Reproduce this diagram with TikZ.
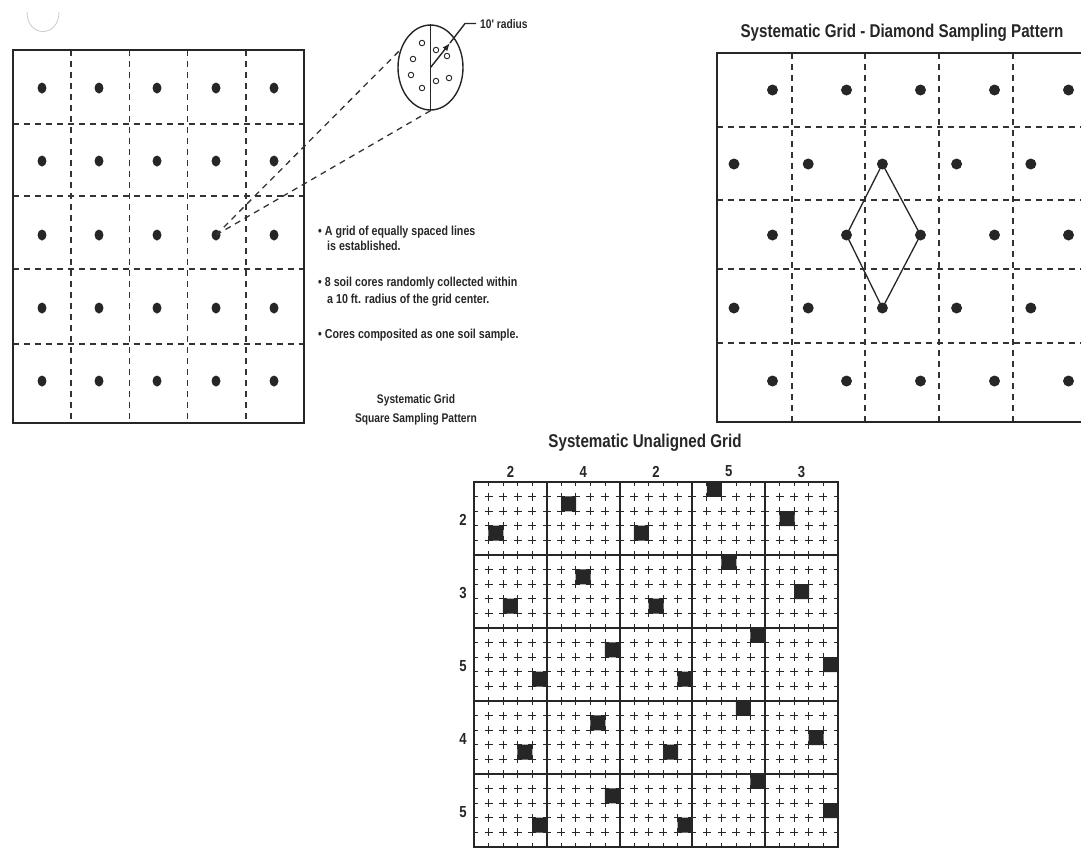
\documentclass[tikz,border=0pt]{standalone}
\usepackage{fontspec}
\setmainfont{Liberation Sans}
\newfontfamily\condfont[FakeStretch=0.82]{Liberation Sans}
\usetikzlibrary{arrows.meta,shapes.geometric}
\definecolor{InkDark}{HTML}{262626}
\definecolor{InkGrey}{HTML}{333333}
\tikzset{
  gridbox/.style={draw=InkDark,line width=2pt},
  gridline/.style={draw=InkGrey,line width=1.3pt,dash pattern=on 6pt off 5pt},
  sampledot/.style={ellipse,fill=InkDark,inner sep=0pt,minimum width=9pt,minimum height=11pt},
  diadot/.style={circle,fill=InkDark,inner sep=0pt,minimum size=11pt},
  corehole/.style={circle,draw=InkDark,line width=0.9pt,inner sep=0pt,minimum size=5.5pt},
  notetext/.style={font=\condfont\bfseries\fontsize{13}{15}\selectfont,text=InkDark,inner sep=0pt,anchor=base west},
  captext/.style={font=\condfont\bfseries\fontsize{12.5}{15}\selectfont,text=InkDark,inner sep=0pt,anchor=base},
  titletext/.style={font=\condfont\bfseries\fontsize{18.5}{22}\selectfont,text=InkDark,inner sep=0pt,anchor=base},
  axislabel/.style={font=\condfont\bfseries\fontsize{16}{18}\selectfont,text=InkDark,inner sep=0pt},
  subvert/.style={draw=InkDark,line width=1pt,dash pattern=on 8pt off 6.6pt,dash phase=4pt},
  subhorz/.style={draw=InkDark,line width=1pt,dash pattern=on 8pt off 6.56pt,dash phase=4pt},
  blockline/.style={draw=InkDark,line width=2pt},
  pickmark/.style={fill=InkDark,inner sep=0pt,minimum size=15pt,rounded corners=1pt}
}
\begin{document}
\begin{tikzpicture}[x=1pt,y=-1pt]
  \useasboundingbox (0,0) rectangle (1081,847);
  % faint mark in the corner
  \draw[InkDark!25,line width=0.8pt] (27,12) .. controls (27,38) and (59,38) .. (59,12);

  % square sampling pattern
  \foreach \x in {71,129.3,187.6,246} \draw[gridline] (\x,50) -- (\x,423);
  \foreach \y in {124,196,269,344} \draw[gridline] (12.7,\y) -- (304,\y);
  \draw[gridbox] (12.7,50) rectangle (304,423);
  \foreach \y [count=\r] in {88,161,235,308,381}
    \foreach \x [count=\c] in {42,99,157,216,274}
      \node[sampledot] (sq-\r-\c) at (\x,\y) {};

  \node[ellipse,draw=InkDark,line width=1.4pt,minimum width=65pt,minimum height=85pt,inner sep=0pt] (zoomcirc) at (430.5,67.5) {};
  \draw[InkDark,line width=1.4pt] (zoomcirc.north) -- (zoomcirc.south);
  \foreach \x/\y [count=\k] in {422/43,413/59,411/75,422/88,436/50,447/56,436/81,449/78}
    \node[corehole] (hole\k) at (\x,\y) {};
  \draw[gridline] (sq-3-4.center) -- (zoomcirc.150);
  \draw[gridline] (sq-3-4.center) -- (zoomcirc.south);

  \coordinate (radtip) at (450,43);
  \coordinate (radelbow) at (465,23.5);
  \node[notetext,font=\condfont\bfseries\fontsize{12.5}{15}\selectfont,inner xsep=4pt] (radlbl) at (476,28) {10' radius};
  \draw[InkDark,line width=1.4pt,-{Latex[length=8pt,width=6pt]}] (zoomcirc.center) -- (radtip);
  \draw[InkDark,line width=1.4pt] (radtip) -- (radelbow) -- (radlbl.west);

  \node[notetext] (noteA1) at (318,235) {\textbullet\ A grid of equally spaced lines};
  \node[notetext] (noteA2) at (327,250) {is established.};
  \node[notetext] (noteB1) at (318,286) {\textbullet\ 8 soil cores randomly collected within};
  \node[notetext] (noteB2) at (327,303) {a 10 ft. radius of the grid center.};
  \node[notetext] (noteC1) at (318,338) {\textbullet\ Cores composited as one soil sample.};
  \node[captext] (capA1) at (416,403) {Systematic Grid};
  \node[captext] (capA2) at (416,422) {Square Sampling Pattern};

  % diamond sampling pattern
  \node[titletext] (diatitle) at (902,37) {Systematic Grid - Diamond Sampling Pattern};
  \foreach \x in {792,865,939,1013} \draw[gridline] (\x,53) -- (\x,422);
  \foreach \y in {127,200,269,343} \draw[gridline] (717,\y) -- (1090,\y);
  \draw[gridbox] (717,53) rectangle (1090,422);
  \foreach \r/\y in {1/90,3/235,5/381}
    \foreach \c in {1,...,5}
      \node[diadot] (dm-\r-\c) at ({772.5+74*(\c-1)},\y) {};
  \foreach \r/\y in {2/164,4/308}
    \foreach \c in {1,...,5}
      \node[diadot] (dm-\r-\c) at ({734+74.2*(\c-1)},\y) {};
  \draw[InkDark,line width=1.3pt] (dm-2-3.center) -- (dm-3-3.center) -- (dm-4-3.center) -- (dm-3-2.center) -- cycle;

  % systematic unaligned grid
  \node[titletext] (unaltitle) at (645,447) {Systematic Unaligned Grid};
  \foreach \b in {0,...,4}
    \foreach \s in {1,...,4} {
      \draw[subvert] ({474+72.8*\b+14.56*\s},482) -- ({474+72.8*\b+14.56*\s},847);
      \draw[subhorz] (474,{482+73*\b+14.6*\s}) -- (838,{482+73*\b+14.6*\s});
    }
  \foreach \b in {1,...,4} {
    \draw[blockline] ({474+72.8*\b},482) -- ({474+72.8*\b},847);
    \draw[blockline] (474,{482+73*\b}) -- (838,{482+73*\b});
  }
  \draw[gridbox,line width=2.8pt] (474,482) rectangle (838,847);
  \foreach \rl [count=\j from 0] in {2,3,5,4,5}
    \foreach \cl [count=\i from 0] in {2,4,2,5,3}
      \node[pickmark] (pk-\j-\i) at ({474+72.8*\i+14.56*(\rl-0.5)},{482+73*\j+14.6*(5.5-\cl)}) {};
  \foreach \cl [count=\i from 0] in {2,4,2,5,3}
    \node[axislabel] (colnum-\i) at ({510.4+72.8*\i},471.5) {\cl};
  \foreach \rl [count=\j from 0] in {2,3,5,4,5}
    \node[axislabel] (rownum-\j) at (463,{520+73*\j}) {\rl};
\end{tikzpicture}
\end{document}
